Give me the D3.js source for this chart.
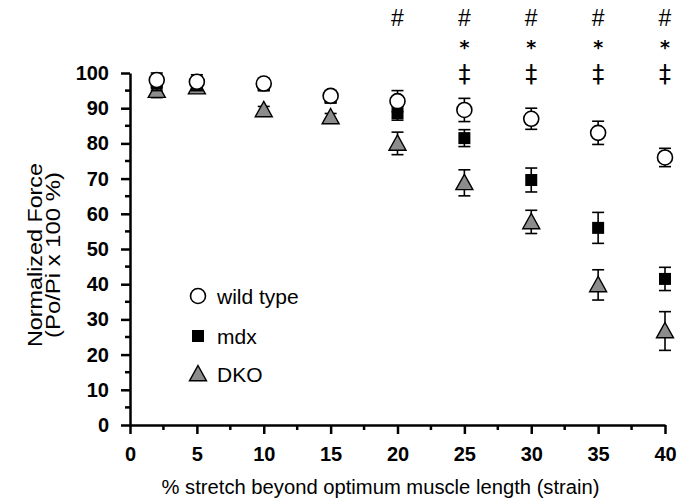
<!DOCTYPE html>
<html>
<head>
<meta charset="utf-8">
<script src="https://cdn.jsdelivr.net/npm/d3@7"></script>
<style>
  body { margin: 0; background: #fff; }
  svg { display: block; font-family: "Liberation Sans", Arial, sans-serif; }
</style>
</head>
<body>
<script>
// strain values (% stretch)
const strain = [2, 5, 10, 15, 20, 25, 30, 35, 40];

// normalized force means and error (SEM)
const wildType = [98, 97.5, 97, 93.5, 92, 89.5, 87, 83, 76];
const wildTypeErr = [2, 2, 1.5, 1.5, 3, 3.3, 3, 3.3, 2.6];
const mdx = [97, 97, 96.5, 93, 88.6, 81.5, 69.6, 56, 41.5];
const mdxErr = [2, 2, 1.5, 1.5, 2, 2.4, 3.4, 4.4, 3.3];
const dko = [95, 96, 89.5, 87.5, 80, 68.8, 57.7, 39.8, 26.7];
const dkoErr = [2, 1.5, 1, 1, 3.2, 3.7, 3.3, 4.3, 5.5];

// significance markers
const hashX = [20, 25, 30, 35, 40];
const starX = [25, 30, 35, 40];
const daggerX = [25, 30, 35, 40];

const xTicks = [0, 5, 10, 15, 20, 25, 30, 35, 40];
const yTicks = [0, 10, 20, 30, 40, 50, 60, 70, 80, 90, 100];

const width = 683, height = 500;

const svg = d3.select("body").append("svg")
    .attr("width", width)
    .attr("height", height);

const x = d3.scaleLinear().domain([0, 40]).range([130, 665]);
const y = d3.scaleLinear().domain([0, 100]).range([425, 73]);

// minor ticks
const xMinor = d3.range(2.5, 40, 5);
const yMinor = d3.range(5, 100, 10);

const axisG = svg.append("g");

axisG.selectAll("line.xminor")
    .data(xMinor)
    .enter().append("line")
    .attr("x1", d => x(d)).attr("x2", d => x(d))
    .attr("y1", y(0)).attr("y2", y(0) + 5)
    .attr("stroke", "#000").attr("stroke-width", 2.5);

axisG.selectAll("line.yminor")
    .data(yMinor)
    .enter().append("line")
    .attr("y1", d => y(d)).attr("y2", d => y(d))
    .attr("x1", x(0)).attr("x2", x(0) - 5)
    .attr("stroke", "#000").attr("stroke-width", 2.5);

// X axis
const gx = svg.append("g")
    .attr("transform", "translate(0," + y(0) + ")")
    .call(d3.axisBottom(x).tickValues(xTicks).tickSize(9).tickSizeOuter(0).tickPadding(13));
gx.select(".domain").attr("stroke-width", 2.5);
gx.selectAll(".tick line").attr("stroke-width", 2.5);
gx.selectAll("text")
    .attr("font-size", "20px")
    .attr("font-weight", "bold")
    .attr("font-family", "Liberation Sans, Arial, sans-serif")
    .attr("fill", "#000");

// Y axis
const gy = svg.append("g")
    .attr("transform", "translate(" + x(0) + ",0)")
    .call(d3.axisLeft(y).tickValues(yTicks).tickSize(9).tickSizeOuter(0).tickPadding(12));
gy.select(".domain").attr("stroke-width", 2.5);
gy.selectAll(".tick line").attr("stroke-width", 2.5);
gy.selectAll("text")
    .attr("font-size", "20px")
    .attr("font-weight", "bold")
    .attr("font-family", "Liberation Sans, Arial, sans-serif")
    .attr("fill", "#000");

// axis titles
svg.append("text")
    .attr("x", x(20) - 17)
    .attr("y", 494)
    .attr("text-anchor", "middle")
    .attr("font-size", "20px")
    .attr("textLength", 438)
    .attr("lengthAdjust", "spacingAndGlyphs")
    .text("% stretch beyond optimum muscle length (strain)");

const yTitle = svg.append("text")
    .attr("transform", "translate(0,255)rotate(-90)")
    .attr("text-anchor", "middle")
    .attr("font-size", "20px");
yTitle.append("tspan").attr("x", 0).attr("y", 42)
    .attr("textLength", 184).attr("lengthAdjust", "spacingAndGlyphs")
    .text("Normalized Force");
yTitle.append("tspan").attr("x", 0).attr("y", 60)
    .attr("textLength", 166).attr("lengthAdjust", "spacingAndGlyphs")
    .text("(Po/Pi x 100 %)");

// series
const series = [
    { name: "DKO", values: dko, err: dkoErr, shape: "triangle" },
    { name: "mdx", values: mdx, err: mdxErr, shape: "square" },
    { name: "wild type", values: wildType, err: wildTypeErr, shape: "circle" }
];

function drawMarker(g, shape, cx, cy) {
    if (shape === "circle") {
        g.append("circle")
            .attr("cx", cx).attr("cy", cy).attr("r", 7.5)
            .attr("fill", "#fff").attr("stroke", "#000").attr("stroke-width", 1.6);
    } else if (shape === "square") {
        g.append("rect")
            .attr("x", cx - 6).attr("y", cy - 6)
            .attr("width", 12).attr("height", 12)
            .attr("fill", "#000");
    } else {
        const s = 8.5;
        g.append("path")
            .attr("d", "M" + cx + "," + (cy - s) + "L" + (cx + s) + "," + (cy + s * 0.8) + "L" + (cx - s) + "," + (cy + s * 0.8) + "Z")
            .attr("fill", "#8c8c8c").attr("stroke", "#000").attr("stroke-width", 1.4);
    }
}

series.forEach(s => {
    const g = svg.append("g");
    strain.forEach((sv, i) => {
        const cx = x(sv);
        const top = y(s.values[i] + s.err[i]);
        const bot = y(s.values[i] - s.err[i]);
        g.append("line")
            .attr("x1", cx).attr("x2", cx).attr("y1", top).attr("y2", bot)
            .attr("stroke", "#000").attr("stroke-width", 1.6);
        [top, bot].forEach(yy => {
            g.append("line")
                .attr("x1", cx - 6).attr("x2", cx + 6).attr("y1", yy).attr("y2", yy)
                .attr("stroke", "#000").attr("stroke-width", 1.6);
        });
    });
    strain.forEach((sv, i) => drawMarker(g, s.shape, x(sv), y(s.values[i])));
});

// significance symbols
function drawSymbols(xs, level, sym, size, weight, family) {
    svg.selectAll(null)
        .data(xs)
        .enter().append("text")
        .attr("x", d => x(d))
        .attr("y", y(level))
        .attr("text-anchor", "middle")
        .attr("font-size", size + "px")
        .attr("font-weight", weight)
        .attr("font-family", family)
        .attr("fill", "#000")
        .text(sym);
}
drawSymbols(hashX, 113.3, "#", 23, "normal", "Liberation Sans, Arial, sans-serif");
drawSymbols(starX, 105.5, "*", 19, "bold", "DejaVu Sans, sans-serif");
drawSymbols(daggerX, 97.5, "\u2021", 24, "normal", "DejaVu Sans, sans-serif");

// legend
const legend = svg.append("g");
const legendItems = ["wild type", "mdx", "DKO"];
const legendShapes = ["circle", "square", "triangle"];
const legendY = [296, 336, 374];
legendItems.forEach((name, i) => {
    drawMarker(legend, legendShapes[i], 198, legendY[i]);
    legend.append("text")
        .attr("x", 217)
        .attr("y", legendY[i] + 8)
        .attr("font-size", "21px")
        .text(name);
});
</script>
</body>
</html>
